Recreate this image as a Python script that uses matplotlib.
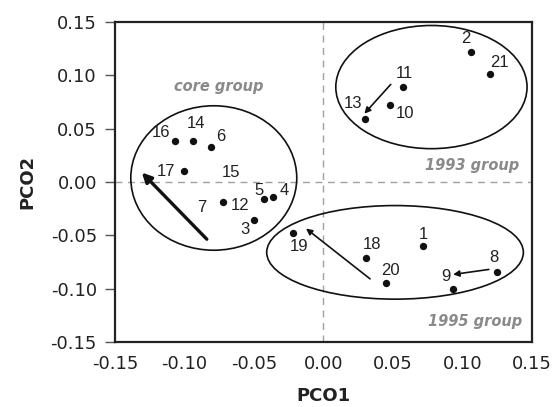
import matplotlib
matplotlib.use("Agg")
import matplotlib.pyplot as plt
from matplotlib.patches import Ellipse

plt.rcParams['axes.unicode_minus'] = False
plt.rcParams['font.family'] = ['DejaVu Sans']

# Sites on the first two principal coordinates
site_ids = ["1", "2", "3", "4", "5", "6", "8", "9", "10", "11", "12",
            "13", "14", "16", "17", "18", "19", "20", "21"]
pco1 = [0.072, 0.106, -0.050, -0.036, -0.043, -0.081, 0.125, 0.093, 0.048, 0.057, -0.072,
        0.030, -0.094, -0.107, -0.100, 0.031, -0.022, 0.045, 0.120]
pco2 = [-0.060, 0.122, -0.036, -0.014, -0.016, 0.033, -0.084, -0.100, 0.072, 0.089, -0.019,
        0.059, 0.038, 0.038, 0.010, -0.071, -0.048, -0.095, 0.101]

# label offsets in pixels (dx, dy)
label_offsets = {
    "1": (0, 12), "2": (-5, 13), "3": (-9, -9), "4": (11, 6), "5": (-5, 9),
    "6": (10, 10), "8": (-3, 14), "9": (-7, 12), "10": (15, -8), "11": (2, 13),
    "12": (17, -3), "13": (-12, 15), "14": (3, 18), "16": (-14, 9), "17": (-18, 0),
    "18": (6, 13), "19": (6, -13), "20": (5, 13), "21": (9, 12),
}

# sites labelled without a point
extra_ids = ["15", "7"]
extra_x = [-0.0667, -0.0875]
extra_y = [0.0088, -0.0239]

# shift arrows (tail -> head)
arrow_x0 = [-0.0839, 0.0485, 0.0336, 0.1191]
arrow_y0 = [-0.0536, 0.0913, -0.0907, -0.0819]
arrow_x1 = [-0.1307, 0.0295, -0.0125, 0.0934]
arrow_y1 = [0.0088, 0.0639, -0.0436, -0.0866]
arrow_lw = [2.4, 1.2, 1.2, 1.2]

# group ellipses
group_names = ["core group", "1993 group", "1995 group"]
group_cx = [-0.0789, 0.0778, 0.0516]
group_cy = [0.0037, 0.0888, -0.0659]
group_w = [0.1195, 0.1377, 0.1848]
group_h = [0.1352, 0.1153, 0.0876]
group_label_x = [-0.0756, 0.1410, 0.1430]
group_label_y = [0.0897, 0.0150, -0.1308]
group_label_ha = ["center", "right", "right"]

fig = plt.figure(figsize=(5.57, 4.07), dpi=100)
ax = fig.add_axes([0.2065, 0.1592, 0.9546 - 0.2065, 0.9467 - 0.1592])

ax.axhline(0, color="#a0a0a0", lw=1, ls=(0, (5, 4)), zorder=1)
ax.axvline(0, color="#a0a0a0", lw=1, ls=(0, (5, 4)), zorder=1)

for cx, cy, w, h in zip(group_cx, group_cy, group_w, group_h):
    ax.add_patch(Ellipse((cx, cy), w, h, fill=False, ec="#111111", lw=1.2, zorder=2))

for name, lx, ly, ha in zip(group_names, group_label_x, group_label_y, group_label_ha):
    ax.text(lx, ly, name, ha=ha, va="center", fontsize=10.5, color="#8a8a8a",
            fontweight="bold", fontstyle="italic")

ax.scatter(pco1, pco2, s=28, color="#111111", zorder=4, linewidths=0)

for sid, x, y in zip(site_ids, pco1, pco2):
    dx, dy = label_offsets[sid]
    ax.annotate(sid, (x, y), xytext=(dx, dy), textcoords="offset pixels",
                ha="center", va="center", fontsize=12, color="#222222",
                family=["Liberation Sans"])

for sid, x, y in zip(extra_ids, extra_x, extra_y):
    ax.text(x, y, sid, ha="center", va="center", fontsize=12, color="#222222",
            family=["Liberation Sans"])

for x0, y0, x1, y1, lw in zip(arrow_x0, arrow_y0, arrow_x1, arrow_y1, arrow_lw):
    ax.annotate("", xy=(x1, y1), xytext=(x0, y0),
                arrowprops=dict(arrowstyle="-|>", color="#111111", lw=lw,
                                mutation_scale=14 if lw > 2 else 9,
                                shrinkA=0, shrinkB=0), zorder=3)

ax.set_xlim(-0.15, 0.15)
ax.set_ylim(-0.15, 0.15)
ticks = [-0.15, -0.10, -0.05, 0.00, 0.05, 0.10, 0.15]
ax.set_xticks(ticks)
ax.set_yticks(ticks)
ax.set_xticklabels([f"{t:.2f}" for t in ticks])
ax.set_yticklabels([f"{t:.2f}" for t in ticks])
ax.tick_params(axis="x", length=0, pad=9, labelsize=13, labelcolor="#222222")
ax.tick_params(axis="y", length=7, width=1, color="#555555", pad=6,
               labelsize=13, labelcolor="#222222")

for sp in ax.spines.values():
    sp.set_linewidth(1.6)
    sp.set_color("#222222")

ax.set_xlabel("PCO1", fontsize=13, fontweight="bold", color="#222222", labelpad=10)
ax.set_ylabel("PCO2", fontsize=13, fontweight="bold", color="#222222", labelpad=10)

fig.savefig("out.png", dpi=100)
